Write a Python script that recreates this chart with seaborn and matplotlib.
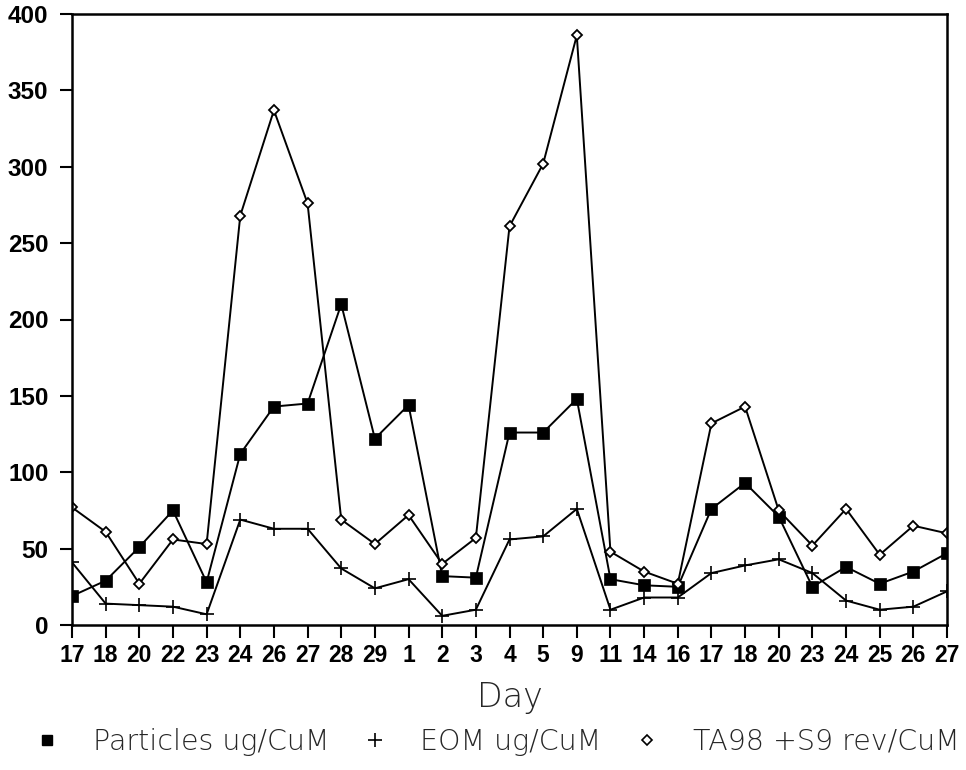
import numpy as np
import pandas as pd
import matplotlib
matplotlib.use("Agg")
import matplotlib.pyplot as plt
import seaborn as sns
from matplotlib.lines import Line2D

# Sampling days (three consecutive months)
days = ["17", "18", "20", "22", "23", "24", "26", "27", "28", "29", "1", "2", "3",
        "4", "5", "9", "11", "14", "16", "17", "18", "20", "23", "24", "25", "26", "27"]

particles = [19, 29, 51, 75, 28, 112, 143, 145, 210, 122, 144, 32, 31,
             126, 126, 148, 30, 26, 25, 76, 93, 71, 25, 38, 27, 35, 47]
eom = [41, 14, 13, 12, 7, 69, 63, 63, 37, 24, 30, 6, 10,
       56, 58, 76, 10, 18, 18, 34, 39, 43, 34, 16, 10, 12, 22]
ta98 = [77, 61, 27, 56, 53, 268, 337, 276, 69, 53, 72, 40, 57,
        261, 302, 386, 48, 35, 27, 132, 143, 75, 52, 76, 46, 65, 60]

series_names = ["Particles ug/CuM", "EOM ug/CuM", "TA98 +S9 rev/CuM"]
y_ticks = [0, 50, 100, 150, 200, 250, 300, 350, 400]

sns.set_theme(style="ticks")
plt.rcParams["font.family"] = ["Liberation Sans", "DejaVu Sans"]

pos = np.arange(len(days))
df = pd.DataFrame({
    "pos": np.tile(pos, 3),
    "value": particles + eom + ta98,
    "series": np.repeat(series_names, len(days)),
})

fig = plt.figure(figsize=(9.66, 7.70), dpi=100)
ax = fig.add_axes([72 / 966, 1 - 625 / 770, (947 - 72) / 966, (625 - 14) / 770])

styles = {
    "Particles ug/CuM": dict(marker="s", markersize=8.5, markerfacecolor="black",
                             markeredgecolor="black", markeredgewidth=0.5),
    "EOM ug/CuM": dict(marker="+", markersize=10, markeredgecolor="black",
                       markeredgewidth=1.2),
    "TA98 +S9 rev/CuM": dict(marker="D", markersize=5.5, markerfacecolor="white",
                             markeredgecolor="black", markeredgewidth=1.3),
}

for name in series_names:
    sub = df[df["series"] == name]
    sns.lineplot(data=sub, x="pos", y="value", ax=ax, color="black",
                 linewidth=1.4, legend=False, **styles[name])

ax.set_xlim(0, len(days) - 1)
ax.set_ylim(0, 400)
ax.set_xticks(pos)
ax.set_xticklabels(days, fontsize=16.5, fontweight="bold")
ax.set_yticks(y_ticks)
ax.set_yticklabels([str(v) for v in y_ticks], fontsize=17.5, fontweight="bold")
ax.tick_params(axis="both", direction="out", length=9, width=1.5, color="black",
               labelcolor="black")
ax.tick_params(axis="x", pad=5)
ax.tick_params(axis="y", pad=8)

for side in ["left", "right", "top", "bottom"]:
    ax.spines[side].set_visible(True)
    ax.spines[side].set_linewidth(1.8)
    ax.spines[side].set_color("black")

ax.set_xlabel("Day", fontsize=24, fontweight="light", family=["DejaVu Sans"],
              labelpad=10)
ax.set_ylabel("")

handles = [
    Line2D([], [], linestyle="none", marker="s", markersize=7, color="black"),
    Line2D([], [], linestyle="none", marker="+", markersize=10, markeredgewidth=1.2,
           color="black"),
    Line2D([], [], linestyle="none", marker="D", markersize=5.5, markerfacecolor="white",
           markeredgecolor="black", markeredgewidth=1.2),
]
fig.legend(handles, series_names, loc="center", bbox_to_anchor=(492 / 966, 1 - 742 / 770),
           ncol=3, frameon=False, handletextpad=0.8, columnspacing=0.8,
           handlelength=1.6, borderpad=0.0,
           prop=dict(family="DejaVu Sans", weight="light", size=20.5))

fig.savefig("out.png", dpi=100)
